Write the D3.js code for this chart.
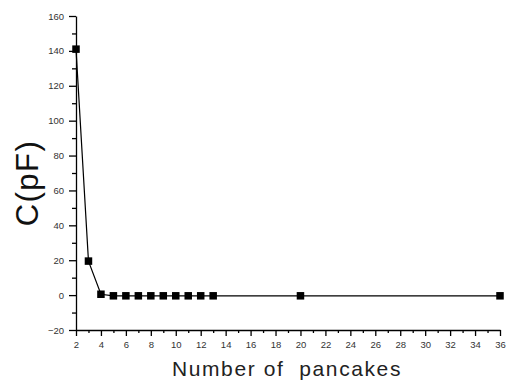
<!DOCTYPE html>
<html>
<head>
<meta charset="utf-8">
<script src="https://cdn.jsdelivr.net/npm/d3@7"></script>
<style>
  body { margin: 0; background: #fff; }
  svg { display: block; }
</style>
</head>
<body>
<script>
(function() {

    // capacitance vs number of pancakes
    var pancakes = [2, 3, 4, 5, 6, 7, 8, 9, 10, 11, 12, 13, 20, 36];
    var capacitance = [141, 19.5, 0.5, -0.4, -0.4, -0.4, -0.4, -0.4, -0.4, -0.4, -0.4, -0.4, -0.4, -0.4];
    var xTicks = [2, 4, 6, 8, 10, 12, 14, 16, 18, 20, 22, 24, 26, 28, 30, 32, 34, 36];
    var yTicks = [-20, 0, 20, 40, 60, 80, 100, 120, 140, 160];

    var width = 516,
        height = 385;

    var x = d3.scaleLinear().domain([2, 36]).range([76, 500]);
    var y = d3.scaleLinear().domain([-20, 160]).range([330, 16]);

    var svg = d3.select("body")
                .append("svg")
                .attr("width", width)
                .attr("height", height);

    // minor ticks first, then major axes on top
    var xMinor = d3.range(3, 36, 2);
    var yMinor = d3.range(-10, 160, 20);

    svg.append("g")
        .attr("transform", "translate(0,330)")
        .call(d3.axisBottom(x).tickValues(xMinor).tickSize(3).tickFormat(""))
        .call(function(g) { g.select(".domain").remove(); });

    svg.append("g")
        .attr("transform", "translate(76,0)")
        .call(d3.axisLeft(y).tickValues(yMinor).tickSize(4).tickFormat(""))
        .call(function(g) { g.select(".domain").remove(); });

    svg.append("g")
        .attr("transform", "translate(0,330)")
        .call(d3.axisBottom(x).tickValues(xTicks).tickSizeInner(6).tickSizeOuter(0).tickPadding(5));

    svg.append("g")
        .attr("transform", "translate(76,0)")
        .call(d3.axisLeft(y).tickValues(yTicks).tickSizeInner(7).tickSizeOuter(0).tickPadding(5));

    svg.selectAll(".tick text")
        .attr("font-family", "Liberation Sans, Arial, sans-serif")
        .attr("font-size", 9.5)
        .attr("fill", "#333");

    svg.selectAll(".domain, .tick line")
        .attr("stroke", "#000")
        .attr("stroke-width", 1.3);

    var points = pancakes.map(function(d, i) { return [d, capacitance[i]]; });

    var line = d3.line()
        .x(function(d) { return x(d[0]); })
        .y(function(d) { return y(d[1]); });

    svg.append("path")
        .datum(points)
        .attr("d", line)
        .attr("fill", "none")
        .attr("stroke", "#000")
        .attr("stroke-width", 1.2);

    var s = 7.5;
    svg.selectAll("rect.pt")
        .data(points)
        .enter()
        .append("rect")
        .attr("class", "pt")
        .attr("x", function(d) { return x(d[0]) - s / 2; })
        .attr("y", function(d) { return y(d[1]) - s / 2; })
        .attr("width", s)
        .attr("height", s)
        .attr("fill", "#000");

    // axis titles
    svg.append("text")
        .attr("x", 287)
        .attr("y", 376)
        .attr("text-anchor", "middle")
        .attr("font-family", "Liberation Sans, Arial, sans-serif")
        .attr("font-size", 21)
        .attr("letter-spacing", 1.6)
        .attr("fill", "#222")
        .style("white-space", "pre")
        .text("Number of  pancakes");

    svg.append("text")
        .attr("transform", "translate(38,183) rotate(-90)")
        .attr("text-anchor", "middle")
        .attr("font-family", "Liberation Sans, Arial, sans-serif")
        .attr("font-size", 31)
        .attr("letter-spacing", 1.5)
        .attr("fill", "#111")
        .text("C(pF)");

})();
</script>
</body>
</html>
